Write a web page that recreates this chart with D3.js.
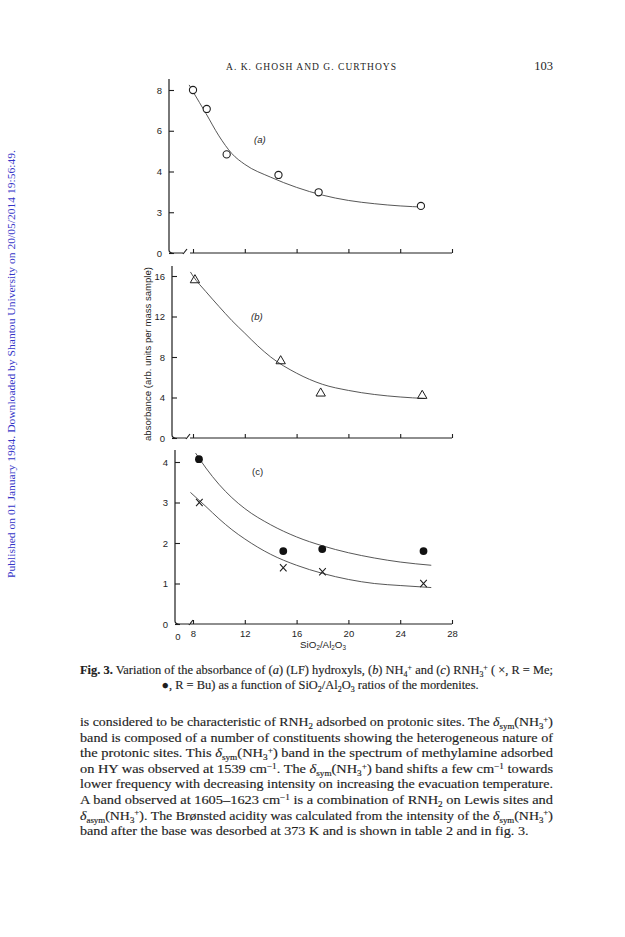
<!DOCTYPE html>
<html>
<head>
<meta charset="utf-8">
<script src="https://cdn.jsdelivr.net/npm/d3@7"></script>
<style>
body{margin:0;background:#fff}
svg{display:block}
</style>
</head>
<body>
<script>
// x axis (SiO2/Al2O3 ratio)
let xTicks = [8, 12, 16, 20, 24, 28]

// (a) LF hydroxyls
let aTicks = [0, 2, 4, 6, 8]
let aTickLabels = ["0", "3", "4", "6", "8"]
let lfX = [8.0, 9.06, 10.6, 14.6, 17.7, 25.6]
let lfY = [8.0, 7.07, 4.84, 3.83, 2.98, 2.31]
let lfFitX = [7.7, 8, 9, 10, 11, 12, 14, 16, 18, 20, 22, 24, 25.9]
let lfFitY = [8.25, 7.92, 6.85, 5.75, 4.88, 4.35, 3.72, 3.22, 2.84, 2.58, 2.42, 2.31, 2.25]

// (b) NH4+
let bTicks = [0, 4, 8, 12, 16]
let bTickLabels = ["0", "4", "8", "12", "16"]
let nhX = [8.15, 14.77, 17.86, 25.7]
let nhY = [15.6, 7.6, 4.41, 4.18]
let nhFitX = [7.8, 8, 9, 10, 11, 12, 13, 14, 16, 18, 20, 22, 24, 25.9]
let nhFitY = [16.4, 16.0, 14.45, 13.0, 11.6, 10.35, 9.1, 8.0, 6.4, 5.3, 4.7, 4.3, 4.05, 3.9]

// (c) RNH3+, R = Bu (filled) and R = Me (crosses)
let cTicks = [0, 1, 2, 3, 4]
let cTickLabels = ["0", "1", "2", "3", "4"]
let buX = [8.46, 14.97, 17.98, 25.8]
let buY = [4.07, 1.80, 1.85, 1.80]
let buFitX = [8.2, 9, 10, 11, 12, 14, 16, 18, 20, 22, 24, 26.4]
let buFitY = [4.22, 3.85, 3.45, 3.12, 2.85, 2.45, 2.15, 1.93, 1.76, 1.63, 1.53, 1.45]
let meX = [8.49, 14.97, 18.0, 25.8]
let meY = [3.0, 1.39, 1.29, 1.0]
let meFitX = [7.8, 9, 10, 11, 12, 14, 16, 18, 20, 22, 24, 26.4]
let meFitY = [3.25, 2.9, 2.6, 2.33, 2.1, 1.72, 1.45, 1.25, 1.1, 1.0, 0.95, 0.9]

let w = 625
let h = 937
let ink = "#1e1e1e"
let sans = "'Liberation Sans', Arial, sans-serif"
let serif = "'Liberation Serif', 'Times New Roman', serif"

let svg = d3.select("body").append("svg")
  .attr("width", w)
  .attr("height", h)

svg.append("rect").attr("width", w).attr("height", h).attr("fill", "#fff")

let x = d3.scaleLinear().domain([8, 28]).range([193, 452])

// small markup: #bold#  *italic*  _{sub}  ^{sup}
let rich = (sel, str, size) => {
  let re = /(#[^#]+#|\*[^*]+\*|_\{[^}]*\}|\^\{[^}]*\})/g
  let parts = str.split(re).filter(s => s.length)
  let shift = 0
  let add = (txt, target, opts) => {
    let t = sel.append("tspan").text(txt)
    if (target !== shift) { t.attr("dy", target - shift); shift = target }
    if (opts.size) t.attr("font-size", opts.size)
    if (opts.italic) t.attr("font-style", "italic")
    if (opts.bold) t.attr("font-weight", "bold")
  }
  parts.forEach(s => {
    if (s[0] === "#") add(s.slice(1, -1), 0, {bold: true})
    else if (s[0] === "*") add(s.slice(1, -1), 0, {italic: true})
    else if (s.startsWith("_{")) add(s.slice(2, -1), size * 0.25, {size: size * 0.64})
    else if (s.startsWith("^{")) add(s.slice(2, -1), -size * 0.33, {size: size * 0.64})
    else add(s, 0, {})
  })
}

let drawPanel = (p) => {
  let y = d3.scaleLinear().domain(p.domain).range([p.base, p.max])
  let g = svg.append("g")

  g.append("g")
    .attr("transform", "translate(" + p.ax + ",0)")
    .call(d3.axisLeft(y).tickValues(p.ticks).tickFormat((d, i) => p.labels[i]).tickSize(-5).tickPadding(7))
    .call(a => a.select(".domain").remove())
    .call(a => a.selectAll("line").attr("stroke", ink).attr("stroke-width", 1.1))
    .call(a => a.selectAll("text").attr("font-family", sans).attr("font-size", 9.5).attr("fill", ink))

  g.append("g")
    .attr("transform", "translate(0," + p.base + ")")
    .call(d3.axisBottom(x).tickValues(xTicks).tickFormat(p.xlabels ? d3.format("d") : "").tickSize(-4).tickPadding(6))
    .call(a => a.select(".domain").remove())
    .call(a => a.selectAll("line").attr("stroke", ink).attr("stroke-width", 1.1))
    .call(a => a.selectAll("text").attr("font-family", sans).attr("font-size", 9.5).attr("fill", ink))

  // axis frame with the broken x axis near the origin
  g.append("path")
    .attr("d", "M" + p.ax + "," + p.top + "V" + (p.base - 3) + "Q" + p.ax + "," + p.base + " " + (p.ax + 4) + "," + p.base
      + "H" + (p.ax + 14) + "M" + (p.ax + 14) + "," + (p.base + 1) + "L" + (p.ax + 18) + "," + (p.base - 4)
      + "M" + (x(8) - 3) + "," + p.base + "H" + x(28))
    .attr("fill", "none")
    .attr("stroke", ink)
    .attr("stroke-width", 1.2)

  if (p.xlabels) {
    g.append("text").text("0")
      .attr("x", p.ax + 3).attr("y", p.base + 16)
      .attr("text-anchor", "middle")
      .attr("font-family", sans).attr("font-size", 9.5).attr("fill", ink)
  }

  g.append("text").text(p.tag)
    .attr("x", p.tagX).attr("y", p.tagY)
    .attr("font-family", sans).attr("font-size", 9.5)
    .attr("font-style", p.tagItalic ? "italic" : "normal")
    .attr("fill", ink)

  let line = d3.line()
    .x(d => x(d[0]))
    .y(d => y(d[1]))
    .curve(d3.curveMonotoneX)

  p.series.forEach(s => {
    g.append("path")
      .datum(d3.zip(s.fitX, s.fitY))
      .attr("d", line)
      .attr("fill", "none")
      .attr("stroke", "#444")
      .attr("stroke-width", 0.9)

    let pts = g.selectAll(null)
      .data(d3.zip(s.xs, s.ys))
      .enter()
      .append("g")
      .attr("transform", d => "translate(" + x(d[0]) + "," + y(d[1]) + ")")

    if (s.mark === "open") {
      pts.append("circle").attr("r", 3.6).attr("fill", "#fff").attr("stroke", ink).attr("stroke-width", 1.1)
    } else if (s.mark === "tri") {
      pts.append("path").attr("d", d3.symbol(d3.symbolTriangle, 38)).attr("fill", "none").attr("stroke", ink).attr("stroke-width", 1)
    } else if (s.mark === "dot") {
      pts.append("circle").attr("r", 3.9).attr("fill", "#111")
    } else if (s.mark === "cross") {
      pts.append("path").attr("d", "M-3.3,-3.6L3.3,3.6M3.3,-3.6L-3.3,3.6").attr("stroke", ink).attr("stroke-width", 1.1)
    }
  })
}

drawPanel({ax: 169, top: 79, base: 253, max: 90, domain: [0, 8], ticks: aTicks, labels: aTickLabels,
  tag: "(a)", tagX: 254, tagY: 143, tagItalic: true,
  series: [{xs: lfX, ys: lfY, fitX: lfFitX, fitY: lfFitY, mark: "open"}]})

drawPanel({ax: 172, top: 266, base: 438, max: 276, domain: [0, 16], ticks: bTicks, labels: bTickLabels,
  tag: "(b)", tagX: 251, tagY: 320, tagItalic: true,
  series: [{xs: nhX, ys: nhY, fitX: nhFitX, fitY: nhFitY, mark: "tri"}]})

drawPanel({ax: 175, top: 450, base: 624, max: 462, domain: [0, 4], ticks: cTicks, labels: cTickLabels,
  tag: "(c)", tagX: 252, tagY: 475, tagItalic: false, xlabels: true,
  series: [{xs: buX, ys: buY, fitX: buFitX, fitY: buFitY, mark: "dot"},
           {xs: meX, ys: meY, fitX: meFitX, fitY: meFitY, mark: "cross"}]})

// y axis title
svg.append("text")
  .text("absorbance (arb. units per mass sample)")
  .attr("transform", "translate(151,354) rotate(-90)")
  .attr("text-anchor", "middle")
  .attr("font-family", sans).attr("font-size", 9.8)
  .attr("textLength", 174).attr("lengthAdjust", "spacingAndGlyphs")
  .attr("fill", ink)

// x axis title
let xt = svg.append("text")
  .attr("x", 323).attr("y", 648)
  .attr("text-anchor", "middle")
  .attr("font-family", sans).attr("font-size", 9.8)
  .attr("fill", ink)
rich(xt, "SiO_{2}/Al_{2}O_{3}", 9.8)

// running head
svg.append("text")
  .text("A. K. GHOSH AND G. CURTHOYS")
  .attr("x", 226).attr("y", 70)
  .attr("font-family", serif).attr("font-size", 9.5)
  .attr("textLength", 170).attr("lengthAdjust", "spacing")
  .attr("fill", ink)

svg.append("text")
  .text("103")
  .attr("x", 553).attr("y", 70)
  .attr("text-anchor", "end")
  .attr("font-family", serif).attr("font-size", 12.5)
  .attr("fill", ink)

// download stamp
svg.append("text")
  .text("Published on 01 January 1984. Downloaded by Shantou University on 20/05/2014 19:56:49.")
  .attr("transform", "translate(15,364) rotate(-90)")
  .attr("text-anchor", "middle")
  .attr("font-family", serif).attr("font-size", 10.5)
  .attr("textLength", 428).attr("lengthAdjust", "spacingAndGlyphs")
  .attr("fill", "#3535c8")

// justify full lines; last lines keep the same glyph stretch
let left = 80
let measure = 473
let setLines = (lines, size, y0, step, lastMode) => {
  let nodes = lines.map((l, i) => {
    let t = svg.append("text")
      .attr("x", left).attr("y", y0 + i * step)
      .attr("font-family", serif).attr("font-size", size)
      .attr("fill", ink).attr("stroke", ink).attr("stroke-width", 0.15)
    rich(t, l, size)
    return t
  })
  let widths = nodes.map(t => t.node().getComputedTextLength())
  let full = lastMode ? nodes.slice(0, -1) : nodes
  let ratio = d3.mean(full.map((t, i) => measure / widths[i]))
  nodes.forEach((t, i) => {
    let isLast = lastMode && i === nodes.length - 1
    let len = isLast ? widths[i] * ratio : measure
    t.attr("textLength", len).attr("lengthAdjust", "spacingAndGlyphs")
    if (isLast && lastMode === "center") t.attr("x", 320 - len / 2)
  })
}

let captionLines = [
  "#Fig. 3.# Variation of the absorbance of (*a*) (LF) hydroxyls, (*b*) NH_{4}^{+} and (*c*) RNH_{3}^{+} ( ×, R = Me;",
  "●, R = Bu) as a function of SiO_{2}/Al_{2}O_{3} ratios of the mordenites."
]
setLines(captionLines, 12.2, 674, 14.5, "center")

let bodyLines = [
  "is considered to be characteristic of RNH_{2} adsorbed on protonic sites. The *δ*_{sym}(NH_{3}^{+})",
  "band is composed of a number of constituents showing the heterogeneous nature of",
  "the protonic sites. This *δ*_{sym}(NH_{3}^{+}) band in the spectrum of methylamine adsorbed",
  "on HY was observed at 1539 cm^{−1}. The *δ*_{sym}(NH_{3}^{+}) band shifts a few cm^{−1} towards",
  "lower frequency with decreasing intensity on increasing the evacuation temperature.",
  "A band observed at 1605–1623 cm^{−1} is a combination of RNH_{2} on Lewis sites and",
  "*δ*_{asym}(NH_{3}^{+}). The Brønsted acidity was calculated from the intensity of the *δ*_{sym}(NH_{3}^{+})",
  "band after the base was desorbed at 373 K and is shown in table 2 and in fig. 3."
]
setLines(bodyLines, 12.8, 726, 15.6, "left")
</script>
</body>
</html>
